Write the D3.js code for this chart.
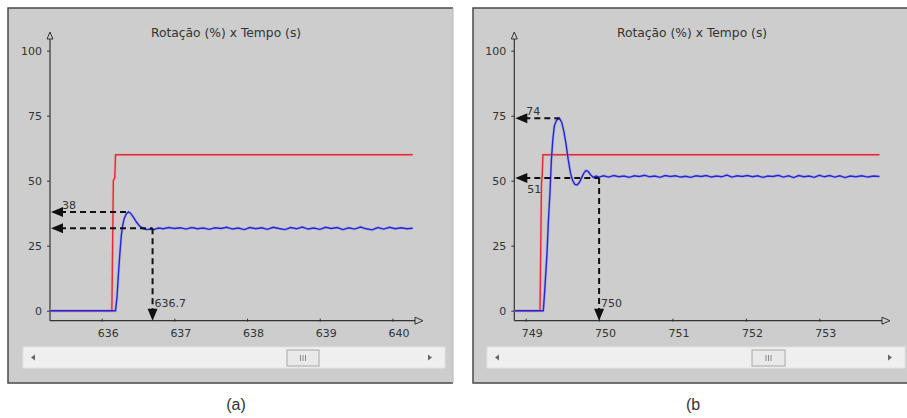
<!DOCTYPE html>
<html>
<head>
<meta charset="utf-8">
<script src="https://cdn.jsdelivr.net/npm/d3@7"></script>
<style>
  html, body { margin: 0; padding: 0; background: #ffffff; }
  svg { display: block; }
  text { font-family: "DejaVu Sans", Verdana, sans-serif; fill: #333; }
</style>
</head>
<body>
<svg id="chart" width="907" height="418"></svg>
<script>
// ---- data -------------------------------------------------------------
const chartTitle = "Rotação (%) x Tempo (s)";
const yTicks = [0, 25, 50, 75, 100];
const xTicksA = [636, 637, 638, 639, 640];
const xTicksB = [749, 750, 751, 752, 753];

// reference speed (%) vs time (s), run (a)
const setpointA = [
  [635.29, 0], [636.14, 0], [636.16, 50], [636.18, 51], [636.19, 60], [640.28, 60]
];
// measured speed (%) vs time (s), run (a)
const speedA = [
  [635.29, 0], [636.19, 0], [636.21, 5], [636.23, 14], [636.25, 22], [636.27, 29],
  [636.29, 33], [636.31, 35.5], [636.34, 37.3], [636.37, 38], [636.40, 37.4],
  [636.44, 35.8], [636.48, 34], [636.52, 32.6], [636.57, 31.6], [636.62, 31.2],
  [636.67, 31.4], [636.72, 31.2], [636.78, 31.8], [636.85, 31.5], [636.92, 32.0],
  [637.00, 31.6], [637.08, 31.9], [637.16, 31.4], [637.24, 32.0], [637.32, 31.5],
  [637.40, 31.8], [637.48, 31.3], [637.56, 31.9], [637.64, 31.6], [637.72, 32.1],
  [637.80, 31.4], [637.88, 31.8], [637.96, 31.2], [638.04, 32.0], [638.12, 31.5],
  [638.20, 31.9], [638.28, 31.3], [638.36, 32.1], [638.44, 31.6], [638.52, 31.2],
  [638.60, 32.0], [638.68, 31.5], [638.76, 32.2], [638.84, 31.4], [638.92, 31.8],
  [639.00, 31.3], [639.08, 32.1], [639.16, 31.6], [639.24, 32.0], [639.32, 31.2],
  [639.40, 31.9], [639.48, 31.4], [639.56, 32.2], [639.64, 31.5], [639.72, 31.1],
  [639.80, 32.0], [639.88, 31.4], [639.96, 32.1], [640.04, 31.5], [640.12, 31.9],
  [640.20, 31.5], [640.28, 31.7]
];

// reference speed (%) vs time (s), run (b)
const setpointB = [
  [748.85, 0], [749.195, 0], [749.215, 49], [749.225, 52], [749.235, 60], [753.82, 60]
];
// measured speed (%) vs time (s), run (b)
const speedB = [
  [748.85, 0], [749.24, 0], [749.26, 8], [749.29, 22], [749.31, 35], [749.33, 45],
  [749.35, 58], [749.37, 66], [749.39, 71], [749.42, 73.3], [749.46, 74],
  [749.49, 72.5], [749.52, 69], [749.55, 64], [749.58, 58], [749.61, 53],
  [749.64, 50], [749.67, 48.6], [749.70, 48.4], [749.73, 49.3], [749.76, 51],
  [749.79, 52.8], [749.82, 53.9], [749.85, 53.6], [749.88, 52.4], [749.92, 51.3],
  [749.96, 51.8], [750.00, 51.4], [750.06, 51.9], [750.13, 51.4], [750.20, 52.0],
  [750.27, 51.5], [750.34, 51.8], [750.41, 51.3], [750.48, 51.9], [750.55, 51.6],
  [750.62, 52.1], [750.69, 51.5], [750.76, 51.8], [750.83, 51.3], [750.90, 52.0],
  [750.97, 51.6], [751.04, 51.9], [751.11, 51.4], [751.18, 51.7], [751.25, 51.3],
  [751.32, 51.9], [751.39, 51.6], [751.46, 52.0], [751.53, 51.4], [751.60, 51.8],
  [751.67, 51.5], [751.74, 52.2], [751.81, 51.4], [751.88, 51.9], [751.95, 51.6],
  [752.02, 52.0], [752.09, 51.5], [752.16, 51.9], [752.23, 51.3], [752.30, 51.8],
  [752.37, 51.6], [752.44, 52.1], [752.51, 51.4], [752.58, 51.9], [752.65, 51.2],
  [752.72, 52.0], [752.79, 51.5], [752.86, 51.8], [752.93, 51.3], [753.00, 52.1],
  [753.07, 51.5], [753.14, 52.0], [753.21, 51.4], [753.28, 51.9], [753.35, 51.2],
  [753.42, 51.8], [753.50, 51.5], [753.58, 51.9], [753.66, 51.4], [753.74, 51.8],
  [753.82, 51.6]
];

// cursor readouts: peak value, settling value and settling time
const peakA = { t: 636.37, v: 38, label: "38" };
const settleA = { t: 636.7, v: 31.7, label: "636.7" };
const peakB = { t: 749.46, v: 74, label: "74" };
const settleB = { t: 750, v: 51, label: "750", vLabel: "51" };

// ---- layout -----------------------------------------------------------
const panels = [
  {
    frame: { x0: 8, y0: 8, x1: 453, y1: 383, rightEdge: true },
    axisX: 50, xEnd: 423,
    xDomain: [636, 640], xRange: [101.7, 392.4],
    xTicks: xTicksA, setpoint: setpointA, speed: speedA,
    peak: peakA, settle: settleA,
    titleX: 226, caption: "(a)", captionX: 236,
    scroll: { x0: 23, x1: 445, thumb0: 287, thumb1: 319 }
  },
  {
    frame: { x0: 473, y0: 8, x1: 915, y1: 383, rightEdge: false },
    axisX: 514.3, xEnd: 890,
    xDomain: [749, 753], xRange: [525.7, 819.3],
    xTicks: xTicksB, setpoint: setpointB, speed: speedB,
    peak: peakB, settle: settleB,
    titleX: 692, caption: "(b", captionX: 693,
    scroll: { x0: 487, x1: 905, thumb0: 752, thumb1: 785 }
  }
];

const axisY = 320.7;
const y = d3.scaleLinear().domain([0, 100]).range([310.7, 50.7]);

const svg = d3.select("#chart");

panels.forEach(p => {
  const g = svg.append("g");
  const x = d3.scaleLinear().domain(p.xDomain).range(p.xRange);
  const f = p.frame;

  // panel background and frame
  g.append("rect")
    .attr("x", f.x0).attr("y", f.y0)
    .attr("width", f.x1 - f.x0).attr("height", f.y1 - f.y0)
    .attr("fill", "#cdcdcd");
  const framePath = d3.path();
  framePath.moveTo(f.x1, f.y0); framePath.lineTo(f.x0, f.y0);
  framePath.lineTo(f.x0, f.y1); framePath.lineTo(f.x1, f.y1);
  g.append("path").attr("d", framePath.toString())
    .attr("fill", "none").attr("stroke", "#4a4a4a").attr("stroke-width", 1.5);
  if (p.frame.rightEdge) {
    g.append("line").attr("x1", f.x1).attr("x2", f.x1)
      .attr("y1", f.y0).attr("y2", f.y1)
      .attr("stroke", "#b8b8b8").attr("stroke-width", 1);
  }

  // title
  g.append("text")
    .attr("x", p.titleX).attr("y", 37)
    .attr("text-anchor", "middle")
    .style("font-size", "12.3px")
    .text(chartTitle);

  // y axis
  const yAxis = d3.axisLeft(y).tickValues(yTicks).tickSize(3).tickPadding(5);
  const yg = g.append("g").attr("transform", `translate(${p.axisX},0)`).call(yAxis);
  yg.select(".domain").remove();
  yg.selectAll("line").attr("stroke", "#333");
  yg.selectAll("text").style("font-size", "11px").style("font-family", "DejaVu Sans")
    .attr("fill", "#333");
  g.append("line")
    .attr("x1", p.axisX).attr("x2", p.axisX)
    .attr("y1", axisY).attr("y2", 33)
    .attr("stroke", "#333").attr("stroke-width", 1.2);
  g.append("path")
    .attr("d", `M${p.axisX},32 L${p.axisX - 3},39 L${p.axisX + 3},39 Z`)
    .attr("fill", "#cdcdcd").attr("stroke", "#333").attr("stroke-width", 1);

  // x axis
  const xAxis = d3.axisBottom(x).tickValues(p.xTicks).tickSize(3).tickPadding(5)
    .tickFormat(d3.format("d"));
  const xg = g.append("g").attr("transform", `translate(0,${axisY - 2})`).call(xAxis);
  xg.select(".domain").remove();
  xg.selectAll("line").attr("stroke", "#333");
  xg.selectAll("text").style("font-size", "11px").style("font-family", "DejaVu Sans")
    .attr("fill", "#333").attr("dx", 6).attr("dy", "0.95em");
  g.append("line")
    .attr("x1", p.axisX).attr("x2", p.xEnd - 7)
    .attr("y1", axisY).attr("y2", axisY)
    .attr("stroke", "#333").attr("stroke-width", 1.2);
  g.append("path")
    .attr("d", `M${p.xEnd},${axisY} L${p.xEnd - 8},${axisY - 3.5} L${p.xEnd - 8},${axisY + 3.5} Z`)
    .attr("fill", "#cdcdcd").attr("stroke", "#333").attr("stroke-width", 1);

  // series
  const line = d3.line().x(d => x(d[0])).y(d => y(d[1]));
  g.append("path").datum(p.setpoint).attr("d", line)
    .attr("fill", "none").attr("stroke", "#f0a0a8").attr("stroke-width", 3).attr("opacity", 0.5);
  g.append("path").datum(p.setpoint).attr("d", line)
    .attr("fill", "none").attr("stroke", "#e52a35").attr("stroke-width", 1.4);
  g.append("path").datum(p.speed).attr("d", line)
    .attr("fill", "none").attr("stroke", "#9a9ae8").attr("stroke-width", 3).attr("opacity", 0.45);
  g.append("path").datum(p.speed).attr("d", line)
    .attr("fill", "none").attr("stroke", "#2525d6").attr("stroke-width", 1.4);

  // cursor readouts
  const dash = { stroke: "#111", "stroke-width": 2, "stroke-dasharray": "6,4" };
  const hLine = (v, t) => {
    const l = g.append("line")
      .attr("x1", p.axisX + 10).attr("x2", x(t))
      .attr("y1", y(v)).attr("y2", y(v));
    Object.entries(dash).forEach(([k, val]) => l.attr(k, val));
    g.append("path")
      .attr("d", `M${p.axisX + 1},${y(v)} L${p.axisX + 13},${y(v) - 5} L${p.axisX + 13},${y(v) + 5} Z`)
      .attr("fill", "#111");
  };
  hLine(p.peak.v, p.peak.t);
  hLine(p.settle.v, p.settle.t);

  const vl = g.append("line")
    .attr("x1", x(p.settle.t)).attr("x2", x(p.settle.t))
    .attr("y1", y(p.settle.v)).attr("y2", axisY - 10);
  Object.entries(dash).forEach(([k, val]) => vl.attr(k, val));
  g.append("path")
    .attr("d", `M${x(p.settle.t)},${axisY} L${x(p.settle.t) - 5},${axisY - 12} L${x(p.settle.t) + 5},${axisY - 12} Z`)
    .attr("fill", "#111");

  g.append("text")
    .attr("x", p.axisX + 12).attr("y", y(p.peak.v) - 3)
    .style("font-size", "11px").text(p.peak.label);
  g.append("text")
    .attr("x", x(p.settle.t) + 2).attr("y", axisY - 14)
    .style("font-size", "11px").text(p.settle.label);
  if (p.settle.vLabel) {
    g.append("text")
      .attr("x", p.axisX + 13).attr("y", y(p.settle.v) + 15)
      .style("font-size", "11px").text(p.settle.vLabel);
  }

  // scrollbar
  const s = p.scroll;
  g.append("rect")
    .attr("x", s.x0).attr("y", 347).attr("width", s.x1 - s.x0).attr("height", 21)
    .attr("fill", "#efefef").attr("stroke", "#e2e2e2").attr("stroke-width", 1);
  g.append("rect")
    .attr("x", s.thumb0).attr("y", 350).attr("width", s.thumb1 - s.thumb0).attr("height", 16)
    .attr("fill", "#e9e9e9").attr("stroke", "#a8a8a8").attr("stroke-width", 1);
  const gripX = (s.thumb0 + s.thumb1) / 2;
  [-2.5, 0, 2.5].forEach(o => {
    g.append("line")
      .attr("x1", gripX + o).attr("x2", gripX + o)
      .attr("y1", 355).attr("y2", 361)
      .attr("stroke", "#8a8a8a").attr("stroke-width", 1);
  });
  g.append("path")
    .attr("d", `M${s.x0 + 8},357.5 L${s.x0 + 12},354.5 L${s.x0 + 12},360.5 Z`)
    .attr("fill", "#666");
  g.append("path")
    .attr("d", `M${s.x1 - 13},357.5 L${s.x1 - 17},354.5 L${s.x1 - 17},360.5 Z`)
    .attr("fill", "#666");

  // caption
  g.append("text")
    .attr("x", p.captionX).attr("y", 410)
    .attr("text-anchor", "middle")
    .style("font-family", "Liberation Sans, Arial, sans-serif")
    .style("font-size", "16px")
    .attr("fill", "#222")
    .text(p.caption);
});
</script>
</body>
</html>
